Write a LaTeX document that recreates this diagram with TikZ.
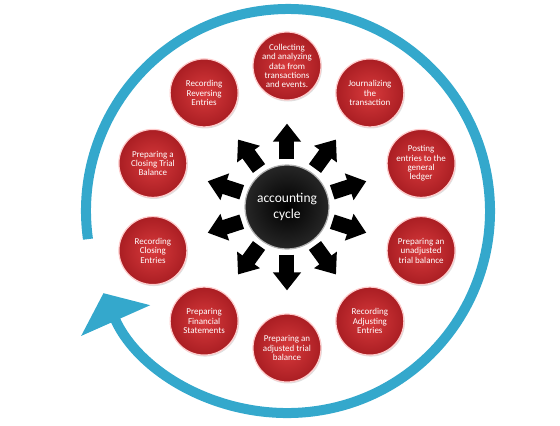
\documentclass[tikz,border=0pt]{standalone}
\usepackage{fontspec}
\setmainfont{Carlito}
\usetikzlibrary{arrows.meta, shadows}

\definecolor{ringblue}{RGB}{52,168,204}
\definecolor{stepred}{RGB}{216,58,60}
\definecolor{stepdark}{RGB}{170,30,35}

\begin{document}
\begin{tikzpicture}[
    x=1pt, y=1pt,
    stepnode/.style={circle, minimum size=68pt, inner sep=0pt, shading=radial, inner color=stepred, outer color=stepdark, draw=white!80!red, line width=1.2pt, text=white, align=center, font=\fontsize{9}{9.4}\selectfont, drop shadow={opacity=0.25, shadow xshift=1pt, shadow yshift=-1.5pt}},
    hub/.style={circle, minimum size=84pt, inner sep=0pt, shading=radial, inner color=black, outer color=black!85!white, draw=gray!60, line width=1.2pt, text=white, align=center, font=\fontsize{13.5}{16}\selectfont},
    spoke/.style={line width=15pt, black, -{Triangle[width=27pt, length=18pt]}, shorten <=5pt, shorten >=23pt},
    ringline/.style={line width=10pt, ringblue, -{Triangle[width=74pt, length=30pt]}}
]
\useasboundingbox (-287,-219) rectangle (273,207);

% Outer cycle ring
\coordinate (ringc) at (1,-4);
\draw[ringline] (ringc) ++(188:202) arc[start angle=188, end angle=-156, radius=202];

% Centre
\node[hub] (hub) at (0,0) {accounting\\cycle};

% Steps
\node[stepnode] (collect) at (90:141) {Collecting\\and analyzing\\data from\\transactions\\and events.};
\node[stepnode] (journal) at (54:141) {Journalizing\\the\\transaction};
\node[stepnode] (post) at (18:141) {Posting\\entries to the\\general\\ledger};
\node[stepnode] (unadj) at (-18:141) {Preparing an\\unadjusted\\trial balance};
\node[stepnode] (adjust) at (-54:141) {Recording\\Adjusting\\Entries};
\node[stepnode] (adjtb) at (-90:141) {Preparing an\\adjusted trial\\balance};
\node[stepnode] (finstmt) at (-126:141) {Preparing\\Financial\\Statements};
\node[stepnode] (closeent) at (198:141) {Recording\\Closing\\Entries};
\node[stepnode] (closetb) at (162:141) {Preparing a\\Closing Trial\\Balance};
\node[stepnode] (reverse) at (126:141) {Recording\\Reversing\\Entries};

% Spokes
\draw[spoke] (hub) -- (collect);
\draw[spoke] (hub) -- (journal);
\draw[spoke] (hub) -- (post);
\draw[spoke] (hub) -- (unadj);
\draw[spoke] (hub) -- (adjust);
\draw[spoke] (hub) -- (adjtb);
\draw[spoke] (hub) -- (finstmt);
\draw[spoke] (hub) -- (closeent);
\draw[spoke] (hub) -- (closetb);
\draw[spoke] (hub) -- (reverse);

\end{tikzpicture}
\end{document}
